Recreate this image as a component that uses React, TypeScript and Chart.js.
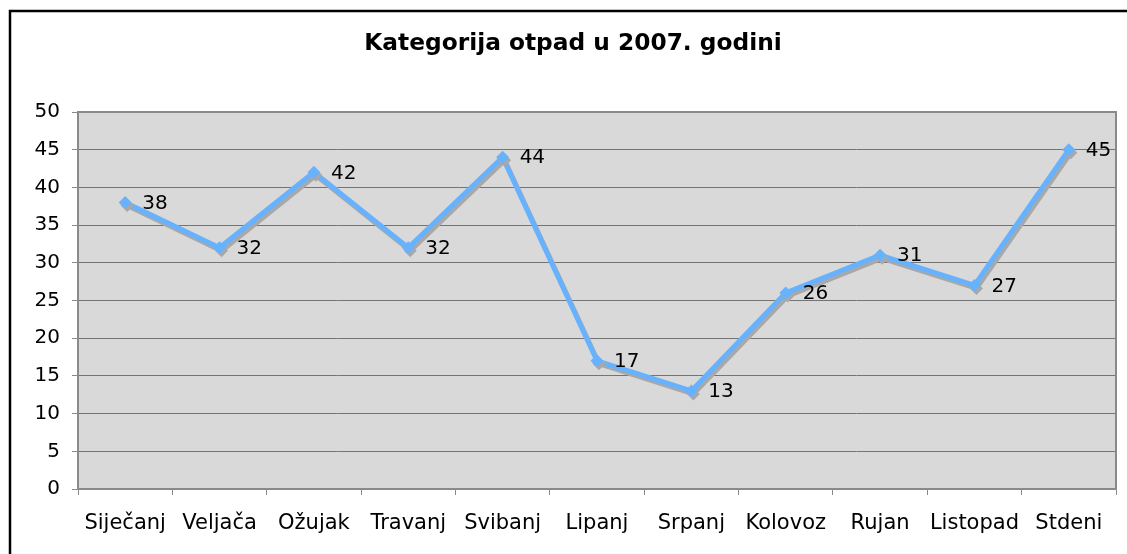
import React, { useEffect, useRef } from "react";
import { Chart, registerables } from "chart.js";

Chart.register(...registerables);

const categories = ["Siječanj", "Veljača", "Ožujak", "Travanj", "Svibanj", "Lipanj", "Srpanj", "Kolovoz", "Rujan", "Listopad", "Stdeni"];
const values = [38, 32, 42, 32, 44, 17, 13, 26, 31, 27, 45];
const chartTitle = "Kategorija otpad u 2007. godini";
const yMin = 0;
const yMax = 50;
const yStep = 5;

const W = 1127;
const H = 554;
const FONT = "'DejaVu Sans', Verdana, sans-serif";
const LINE_BLUE = "#66b2ff";

const framePlugin = {
  id: "frame",
  beforeDraw(chart: any) {
    const { ctx, chartArea } = chart;
    ctx.save();
    ctx.fillStyle = "#ffffff";
    ctx.fillRect(0, 0, chart.width, chart.height);
    ctx.strokeStyle = "#000000";
    ctx.lineWidth = 2.5;
    ctx.strokeRect(10, 11, 1300, 1300);
    ctx.fillStyle = "#d9d9d9";
    ctx.fillRect(chartArea.left, chartArea.top, chartArea.right - chartArea.left, chartArea.bottom - chartArea.top);
    ctx.fillStyle = "#000000";
    ctx.font = `bold 23.3px ${FONT}`;
    ctx.textAlign = "center";
    ctx.textBaseline = "alphabetic";
    ctx.fillText(chartTitle, 573, 50);
    ctx.restore();
  },
  beforeDatasetsDraw(chart: any) {
    const { ctx, chartArea } = chart;
    ctx.save();
    ctx.strokeStyle = "#8a8a8a";
    ctx.lineWidth = 2;
    ctx.strokeRect(chartArea.left, chartArea.top, chartArea.right - chartArea.left, chartArea.bottom - chartArea.top);
    ctx.restore();
  },
  beforeDatasetDraw(chart: any) {
    const ctx = chart.ctx;
    ctx.save();
    ctx.shadowColor = "#a8a8a8";
    ctx.shadowOffsetX = 2;
    ctx.shadowOffsetY = 3;
    ctx.shadowBlur = 0;
  },
  afterDatasetDraw(chart: any) {
    chart.ctx.restore();
  },
  afterDatasetsDraw(chart: any) {
    const { ctx } = chart;
    const meta = chart.getDatasetMeta(0);
    const data = chart.data.datasets[0].data;
    ctx.save();
    ctx.fillStyle = "#000000";
    ctx.font = `20px ${FONT}`;
    ctx.textAlign = "left";
    ctx.textBaseline = "middle";
    meta.data.forEach((pt: any, i: number) => {
      ctx.fillText(String(data[i]), pt.x + 17, pt.y + 1);
    });
    ctx.restore();
  },
};

export default function App() {
  const ref = useRef<HTMLCanvasElement>(null);
  useEffect(() => {
    if (!ref.current) return;
    const chart = new Chart(ref.current, {
      type: "line",
      data: {
        labels: categories,
        datasets: [
          {
            data: values,
            borderColor: LINE_BLUE,
            backgroundColor: LINE_BLUE,
            borderWidth: 5,
            pointStyle: "rectRot",
            pointRadius: 6.5,
            pointBorderWidth: 0,
            pointBackgroundColor: LINE_BLUE,
            tension: 0,
            fill: false,
          },
        ],
      },
      options: {
        responsive: false,
        animation: false,
        devicePixelRatio: 1,
        layout: { padding: { top: 112, left: 0, right: 11, bottom: 0 } },
        plugins: {
          legend: { display: false },
          title: { display: false },
          tooltip: { enabled: false },
        },
        scales: {
          x: {
            type: "category",
            offset: true,
            border: { display: false },
            grid: {
              display: true,
              offset: true,
              drawOnChartArea: false,
              drawTicks: true,
              tickLength: 6,
              color: "#8a8a8a",
              tickColor: "#8a8a8a",
            },
            ticks: {
              color: "#000000",
              font: { family: FONT, size: 21 },
              padding: 16,
              maxRotation: 0,
              autoSkip: false,
            },
            afterFit(scale: any) {
              scale.height = 65;
            },
          },
          y: {
            min: yMin,
            max: yMax,
            border: { display: false },
            grid: {
              color: "#747474",
              lineWidth: 1,
              tickLength: 6,
              tickColor: "#8a8a8a",
            },
            ticks: {
              stepSize: yStep,
              color: "#000000",
              font: { family: FONT, size: 20 },
              padding: 12,
            },
            afterFit(scale: any) {
              scale.width = 78;
            },
          },
        },
      },
      plugins: [framePlugin],
    });
    return () => chart.destroy();
  }, []);
  return (
    <div style={{ position: "absolute", left: 0, top: 0, width: W, height: H }}>
      <canvas ref={ref} width={W} height={H} style={{ width: W, height: H, display: "block" }} />
    </div>
  );
}
